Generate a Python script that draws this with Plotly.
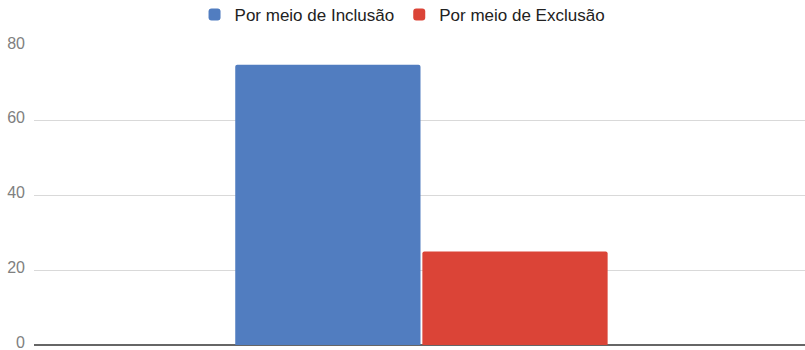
import plotly.graph_objects as go

categories = [0]
series_names = ["Por meio de Inclusão", "Por meio de Exclusão"]
series_values = [[75], [25]]
colors = ["#517dc0", "#db4437"]
y_ticks = [0, 20, 40, 60, 80]

fig = go.Figure()
for name, vals, col in zip(series_names, series_values, colors):
    fig.add_trace(go.Bar(x=categories, y=vals, name=name,
                         marker=dict(color=col, line=dict(width=0))))

fig.update_layout(
    width=805, height=350,
    margin=dict(l=34, r=0, t=46, b=5, autoexpand=False),
    paper_bgcolor="white", plot_bgcolor="white",
    barmode="group", bargap=0.517, bargroupgap=0.01, barcornerradius=2,
    font=dict(family="Liberation Sans, Arial, sans-serif", size=17, color="#222222"),
    legend=dict(orientation="h", x=0.478, xanchor="center", y=1.104, yanchor="middle",
                font=dict(size=17, color="#222222"), itemwidth=30, traceorder="normal"),
    showlegend=True,
)
fig.update_xaxes(range=[-0.5, 0.495], showticklabels=False, showgrid=False,
                 zeroline=False, showline=False)
fig.update_yaxes(range=[0, 80], tickvals=y_ticks, showgrid=True, gridcolor="#d9d9d9",
                 gridwidth=1, zeroline=True, zerolinecolor="#666666", zerolinewidth=2,
                 tickfont=dict(size=16, color="#808080"), showline=False, ticks="",
                 ticklabelstandoff=8, ticklabelshift=-3, ticklabeloverflow="allow",
                 automargin=False)

fig.write_html(
    "out.html",
    config={"displayModeBar": False},
    post_script="document.body.style.margin='0';document.body.style.overflow='hidden';",
)
